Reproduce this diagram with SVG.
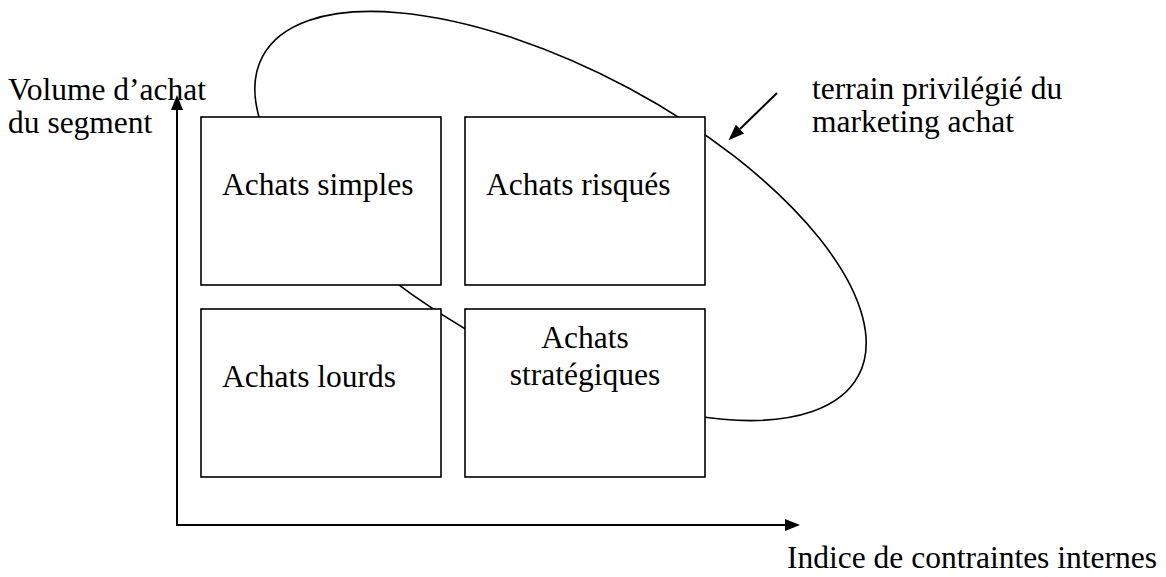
<svg xmlns="http://www.w3.org/2000/svg" width="1166" height="577" viewBox="0 0 1166 577">
<style>
text{font-family:"Liberation Serif","Times New Roman",serif;font-size:31.5px;fill:#000}
.box{fill:#fff;stroke:#000;stroke-width:1.6}
.axis{stroke:#000;stroke-width:2;fill:none}
.thin{stroke:#000;stroke-width:1.6;fill:none}
</style>
<defs>
<marker id="ah" markerUnits="userSpaceOnUse" markerWidth="15" markerHeight="12" refX="0" refY="6" orient="auto">
<path d="M0,0 L15,6 L0,12 z" fill="#000"/>
</marker>
<marker id="ahs" markerUnits="userSpaceOnUse" markerWidth="16" markerHeight="12" refX="0" refY="6" orient="auto">
<path d="M0,0 L16,6 L0,12 z" fill="#000"/>
</marker>
</defs>
<g id="zone">
<ellipse cx="560.5" cy="216" rx="338" ry="145" transform="rotate(28.2 560.5 216)" class="thin"/>
</g>
<g id="node-simples">
<rect class="box" x="201" y="117" width="240" height="168"/>
<text x="222" y="195">Achats simples</text>
</g>
<g id="node-risques">
<rect class="box" x="465" y="117" width="240" height="168"/>
<text x="486" y="195">Achats risqués</text>
</g>
<g id="node-lourds">
<rect class="box" x="201" y="309" width="240" height="168"/>
<text x="222" y="387">Achats lourds</text>
</g>
<g id="node-strategiques">
<rect class="box" x="465" y="309" width="240" height="168"/>
<text x="585" y="348" text-anchor="middle">Achats</text>
<text x="585" y="385" text-anchor="middle">stratégiques</text>
</g>
<g id="connectors">
<line class="axis" x1="177" y1="526" x2="177" y2="110" marker-end="url(#ah)"/>
<line class="axis" x1="176" y1="525" x2="785" y2="525" marker-end="url(#ah)"/>
<line class="axis" x1="777" y1="93" x2="740" y2="129" marker-end="url(#ahs)"/>
</g>
<g id="labels">
<text x="8" y="100">Volume d’achat</text>
<text x="8" y="133">du segment</text>
<text x="812" y="99">terrain privilégié du</text>
<text x="812" y="132">marketing achat</text>
<text x="787" y="568">Indice de contraintes internes</text>
</g>
</svg>
